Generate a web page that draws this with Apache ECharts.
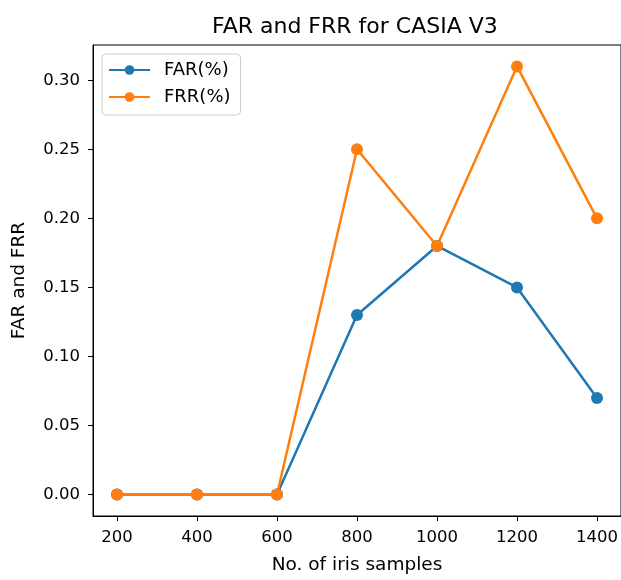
<!DOCTYPE html>
<html>
<head>
<meta charset="utf-8">
<script src="https://cdn.jsdelivr.net/npm/echarts@6/dist/echarts.min.js"></script>
<style>
  html, body { margin: 0; padding: 0; background: #fff; }
  #main { width: 621px; height: 580px; }
</style>
</head>
<body>
<div id="main"></div>
<script>
// 数据
var samples = [200, 400, 600, 800, 1000, 1200, 1400];
var farValues = [0, 0, 0, 0.13, 0.18, 0.15, 0.07];
var frrValues = [0, 0, 0, 0.25, 0.18, 0.31, 0.20];
var yTicks = [0, 0.05, 0.10, 0.15, 0.20, 0.25, 0.30];

(function() {
  var myChart = echarts.init(document.getElementById('main'));

  function pairs(vals) {
    var out = [];
    for (var i = 0; i < samples.length; i++) {
      out.push([samples[i], vals[i]]);
    }
    return out;
  }

  var font = 'DejaVu Sans';

  option = {
    backgroundColor: '#fff',
    animation: false,
    title: {
      text: 'FAR and FRR for CASIA V3',
      left: 207,
      top: 11,
      textStyle: {
        color: '#000',
        fontSize: 22,
        fontWeight: 'normal',
        fontFamily: font
      }
    },
    grid: {
      left: 93,
      top: 45,
      width: 529,
      height: 479,
      show: true,
      borderColor: '#000',
      borderWidth: 1,
      containLabel: false
    },
    legend: {
      orient: 'vertical',
      left: 102,
      top: 54,
      padding: [7, 10, 9, 6],
      itemWidth: 41,
      itemHeight: 12,
      itemGap: 9,
      backgroundColor: 'rgba(255,255,255,0.8)',
      borderColor: '#cccccc',
      borderWidth: 1,
      borderRadius: 4,
      textStyle: {
        color: '#000',
        fontSize: 18,
        lineHeight: 18,
        fontFamily: font,
        padding: [0, 0, 0, 9]
      },
      data: ['FAR(%)', 'FRR(%)']
    },
    xAxis: {
      type: 'value',
      min: 140,
      max: 1460,
      name: 'No. of iris samples',
      nameLocation: 'middle',
      nameGap: 40,
      nameTextStyle: { color: '#000', fontSize: 18.5, fontFamily: font },
      splitLine: { show: false },
      axisLine: { show: true, onZero: false, lineStyle: { color: '#000', width: 1 } },
      axisTick: {
        show: true,
        length: 5,
        lineStyle: { color: '#000' },
        customValues: samples
      },
      axisLabel: {
        color: '#000',
        fontSize: 16.5,
        fontFamily: font,
        margin: 13,
        customValues: samples,
        formatter: function(v) { return String(v); }
      }
    },
    yAxis: {
      type: 'value',
      min: -0.0155,
      max: 0.3255,
      name: 'FAR and FRR',
      nameLocation: 'middle',
      nameGap: 64,
      nameTextStyle: { color: '#000', fontSize: 18.5, fontFamily: font },
      splitLine: { show: false },
      axisLine: { show: true, onZero: false, lineStyle: { color: '#000', width: 1 } },
      axisTick: {
        show: true,
        length: 5,
        lineStyle: { color: '#000' },
        customValues: yTicks
      },
      axisLabel: {
        color: '#000',
        fontSize: 16.5,
        fontFamily: font,
        margin: 13,
        customValues: yTicks,
        formatter: function(v) { return v.toFixed(2); }
      }
    },
    series: [
      {
        name: 'FAR(%)',
        type: 'line',
        data: pairs(farValues),
        symbol: 'circle',
        symbolSize: 12,
        color: '#1f77b4',
        lineStyle: { width: 2.5, color: '#1f77b4' },
        itemStyle: { color: '#1f77b4' }
      },
      {
        name: 'FRR(%)',
        type: 'line',
        data: pairs(frrValues),
        symbol: 'circle',
        symbolSize: 12,
        color: '#ff7f0e',
        lineStyle: { width: 2.5, color: '#ff7f0e' },
        itemStyle: { color: '#ff7f0e' }
      }
    ]
  };

  myChart.setOption(option);
  window.addEventListener("resize", function() {
    myChart.resize();
  });
})();
</script>
</body>
</html>
